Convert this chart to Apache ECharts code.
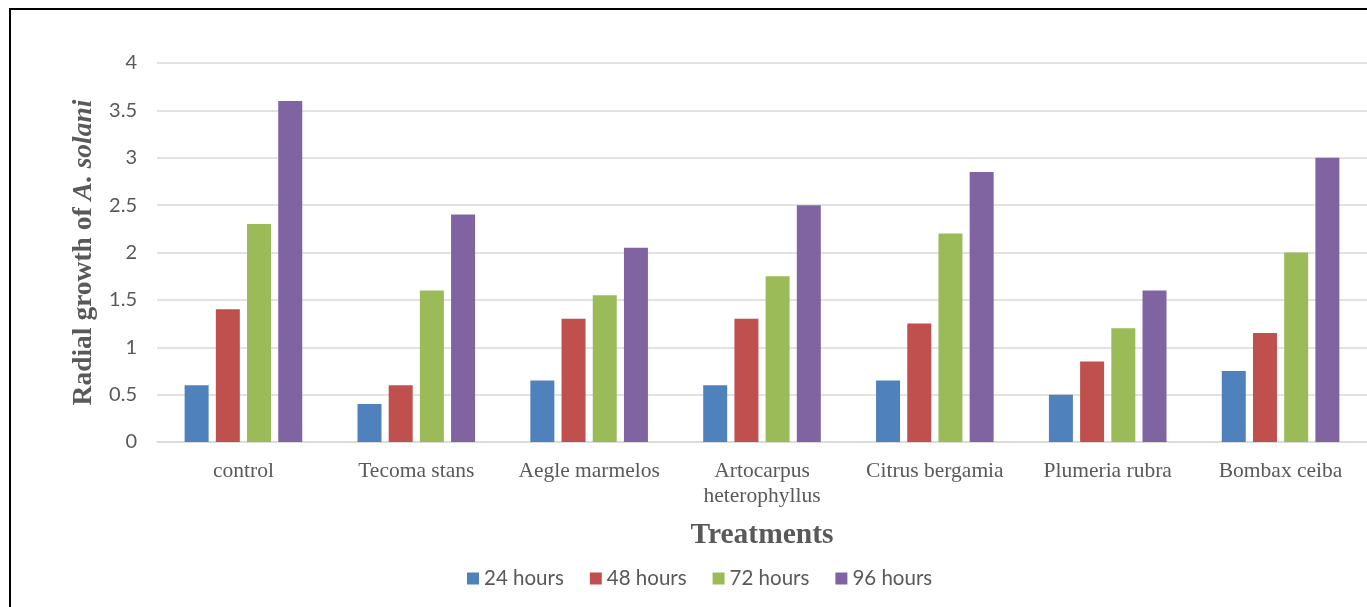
<!DOCTYPE html>
<html>
<head>
<meta charset="utf-8">
<script src="https://cdn.jsdelivr.net/npm/echarts@6/dist/echarts.min.js"></script>
<style>
  html, body { margin: 0; padding: 0; background: #fff; }
  #chart { width: 1367px; height: 607px; }
</style>
</head>
<body>
<div id="chart"></div>
<script>
// treatments and hours
const categories = ["control", "Tecoma stans", "Aegle marmelos", "Artocarpus\nheterophyllus", "Citrus bergamia", "Plumeria rubra", "Bombax ceiba"];
const h24 = [0.6, 0.4, 0.65, 0.6, 0.65, 0.5, 0.75];
const h48 = [1.4, 0.6, 1.3, 1.3, 1.25, 0.85, 1.15];
const h72 = [2.3, 1.6, 1.55, 1.75, 2.2, 1.2, 2.0];
const h96 = [3.6, 2.4, 2.05, 2.5, 2.85, 1.6, 3.0];
const seriesNames = ["24 hours", "48 hours", "72 hours", "96 hours"];
const colors = ["#4f81bd", "#c0504d", "#9bbb59", "#8064a2"];

const chart = echarts.init(document.getElementById("chart"));

const mkBar = (name, data, i) => ({
  name: name,
  type: "bar",
  data: data,
  barWidth: 24,
  barGap: "30%",
  itemStyle: { color: colors[i] },
});

const option = {
  backgroundColor: "#fff",
  animation: false,
  color: colors,
  graphic: [
    {
      type: "rect",
      shape: { x: 10, y: 9, width: 1400, height: 700 },
      style: { fill: "none", stroke: "#000", lineWidth: 2 },
      silent: true,
    },
  ],
  legend: {
    data: seriesNames,
    left: 462,
    top: 563,
    itemWidth: 12,
    itemHeight: 12,
    itemGap: 26,
    icon: "rect",
    textStyle: { color: "#595959", fontSize: 20.5, fontFamily: "Lato" },
  },
  grid: { left: 157, top: 63, width: 1220, height: 379 },
  xAxis: {
    type: "category",
    data: categories,
    name: "Treatments",
    nameLocation: "middle",
    nameGap: 78,
    nameTextStyle: { color: "#595959", fontSize: 29.5, fontWeight: "bold", fontFamily: "Liberation Serif" },
    axisLine: { lineStyle: { color: "#d9d9d9", width: 1.5 } },
    axisTick: { show: false },
    axisLabel: {
      color: "#595959",
      fontSize: 21.5,
      fontFamily: "Liberation Serif",
      margin: 17,
      lineHeight: 25,
      interval: 0,
    },
  },
  yAxis: {
    type: "value",
    min: 0,
    max: 4,
    interval: 0.5,
    name: "{n|Radial growth of }{i|A. solani}",
    nameLocation: "middle",
    nameGap: 57,
    nameTextStyle: {
      rich: {
        n: { color: "#595959", fontSize: 27.5, fontWeight: "bold", fontFamily: "Liberation Serif" },
        i: { color: "#595959", fontSize: 27.5, fontWeight: "bold", fontStyle: "italic", fontFamily: "Liberation Serif" },
      },
    },
    axisLine: { show: false },
    axisTick: { show: false },
    axisLabel: { color: "#595959", fontSize: 20, fontFamily: "Lato", margin: 20 },
    splitLine: { lineStyle: { color: "#d9d9d9", width: 1.5 } },
  },
  series: [mkBar(seriesNames[0], h24, 0), mkBar(seriesNames[1], h48, 1), mkBar(seriesNames[2], h72, 2), mkBar(seriesNames[3], h96, 3)],
};

chart.setOption(option);
</script>
</body>
</html>
